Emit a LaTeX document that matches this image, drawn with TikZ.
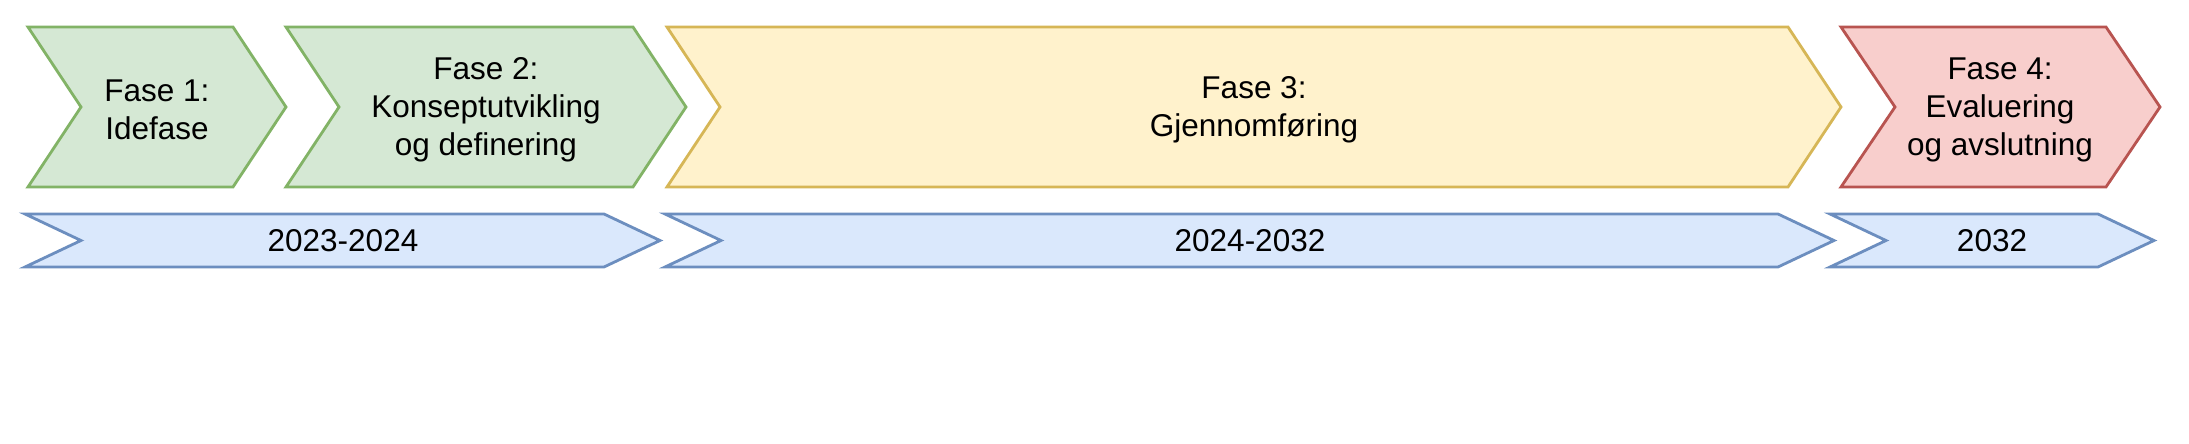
\documentclass[tikz,border=0pt]{standalone}
\usepackage{fontspec}
\setmainfont{Liberation Sans}
\usetikzlibrary{positioning}
\definecolor{gronnfyll}{HTML}{D5E8D4}
\definecolor{gronnlinje}{HTML}{82B366}
\definecolor{gulfyll}{HTML}{FFF2CC}
\definecolor{gullinje}{HTML}{D6B656}
\definecolor{rodfyll}{HTML}{F8CECC}
\definecolor{rodlinje}{HTML}{B85450}
\definecolor{blafyll}{HTML}{DAE8FC}
\definecolor{blalinje}{HTML}{6C8EBF}
\tikzset{
    fase/.style={line width=1.4pt,line join=miter},
    gronn/.style={fase,fill=gronnfyll,draw=gronnlinje},
    gul/.style={fase,fill=gulfyll,draw=gullinje},
    rod/.style={fase,fill=rodfyll,draw=rodlinje},
    aar/.style={fase,fill=blafyll,draw=blalinje},
    tekst/.style={align=center,inner sep=0pt,font=\fontsize{15.75}{19}\selectfont}
}
% #1 stil, #2 venstre, #3 spiss, #4 topp, #5 bunn, #6 dybde
\newcommand{\fasepil}[6]{%
    \draw[#1] (#2,#4) -- ({#3-#6},#4) -- (#3,{(#4+#5)/2})
        -- ({#3-#6},#5) -- (#2,#5) -- ({#2+#6},{(#4+#5)/2}) -- cycle;}

\begin{document}
\begin{tikzpicture}[x=0.5pt,y=-0.5pt]
    \fill[white] (0,0) rectangle (2189,444);
    \useasboundingbox (0,0) rectangle (2189,444);
    \fasepil{gronn}{28}{286}{27}{187}{53}
    \fasepil{gronn}{286}{686}{27}{187}{53}
    \fasepil{gul}{667}{1841}{27}{187}{53}
    \fasepil{rod}{1841}{2160}{27}{187}{54}
    \node[tekst] (f1) at (157,110) {Fase 1:\\Idefase};
    \node[tekst] (f2) at (486,110) {Fase 2:\\Konseptutvikling\\og definering};
    \node[tekst] (f3) at (1254,110) {Fase 3:\\Gjennomføring};
    \node[tekst] (f4) at (2000,110) {Fase 4:\\Evaluering\\og avslutning};
    \fasepil{aar}{25}{660}{214}{267}{56}
    \fasepil{aar}{665}{1834}{214}{267}{56}
    \fasepil{aar}{1830}{2154}{214}{267}{56}
    \node[tekst] (a1) at (343,241) {2023-2024};
    \node[tekst] (a2) at (1250,241) {2024-2032};
    \node[tekst] (a3) at (1992,241) {2032};
\end{tikzpicture}
\end{document}
